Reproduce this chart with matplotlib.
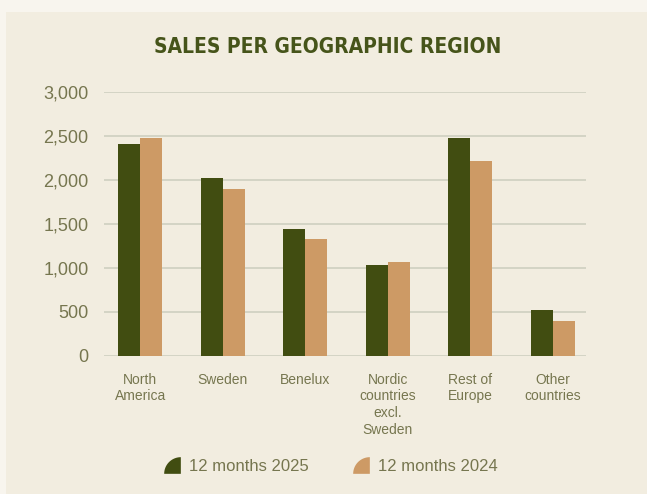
"""
Sales per geographic region, 12 months 2025 vs 12 months 2024 (grouped bars).
Writes out.png.
"""
import numpy as np
import matplotlib
matplotlib.use("Agg")
import matplotlib.pyplot as plt
from matplotlib.path import Path
from matplotlib.patches import Rectangle
from matplotlib.lines import Line2D

regions = ["North\nAmerica", "Sweden", "Benelux", "Nordic\ncountries\nexcl.\nSweden",
           "Rest of\nEurope", "Other\ncountries"]
sales_2025 = [2406, 2020, 1441, 1033, 2474, 522]
sales_2024 = [2474, 1895, 1328, 1067, 2213, 397]
series_labels = ["12 months 2025", "12 months 2024"]
yticks = [0, 500, 1000, 1500, 2000, 2500, 3000]

GREEN = "#414d11"
TAN = "#cd9a65"
TEXT = "#76764f"
TITLE = "#46541a"
PANEL = "#f2ede0"
OUTER = "#f8f5ee"

plt.rcParams["font.family"] = ["Liberation Sans", "DejaVu Sans"]

fig = plt.figure(figsize=(6.47, 4.94), dpi=100, facecolor=OUTER)
fig.patches.append(Rectangle((6 / 647, 0), 1, 1 - 12 / 494, transform=fig.transFigure,
                             facecolor=PANEL, edgecolor="none", zorder=-5))

ax = fig.add_axes([0.1607, 0.2794, 0.745, 0.535])
ax.set_facecolor("none")

x = np.arange(len(regions))
w = 0.266
ax.bar(x - w / 2, sales_2025, w, color=GREEN, zorder=3)
ax.bar(x + w / 2, sales_2024, w, color=TAN, zorder=3)

ax.set_xlim(-0.44, 5.4)
ax.set_ylim(0, 3000)
ax.set_yticks(yticks)
ax.set_yticklabels([f"{v:,}" for v in yticks])
ax.set_xticks(x)
ax.set_xticklabels(regions, fontsize=10, color=TEXT, linespacing=1.25, va="top")
ax.tick_params(axis="y", length=0, pad=11, labelsize=13, labelcolor=TEXT)
ax.tick_params(axis="x", length=0, pad=12)
ax.grid(axis="y", color="#cfcfc0", linewidth=1.2, zorder=0)
for s in ax.spines.values():
    s.set_visible(False)

# no narrow Helvetica here, DejaVu condensed bold is the closest stand-in
fig.text(0.506, 0.905, "SALES PER GEOGRAPHIC REGION", ha="center", va="center",
         fontsize=15, fontweight="bold", color=TITLE, fontstretch="condensed",
         family=["DejaVu Sans"])

# quarter-circle legend marker (centre of the circle at bottom-right)
theta = np.linspace(np.pi / 2, np.pi, 20)
verts = [(1, 0)] + [(1 + np.cos(t), np.sin(t)) for t in theta] + [(1, 0)]
verts = np.array(verts) - 0.5
codes = [Path.MOVETO] + [Path.LINETO] * (len(verts) - 2) + [Path.CLOSEPOLY]
qmark = Path(verts, codes)

handles = [Line2D([], [], marker=qmark, linestyle="none", markersize=12,
                  markerfacecolor=c, markeredgecolor="none") for c in (GREEN, TAN)]
fig.legend(handles, series_labels, loc="center", bbox_to_anchor=(0.511, 0.055),
           ncol=2, frameon=False, fontsize=12, labelcolor=TEXT,
           handlelength=1.0, handletextpad=0.55, columnspacing=2.6)

fig.savefig("out.png", dpi=100, facecolor=fig.get_facecolor())
